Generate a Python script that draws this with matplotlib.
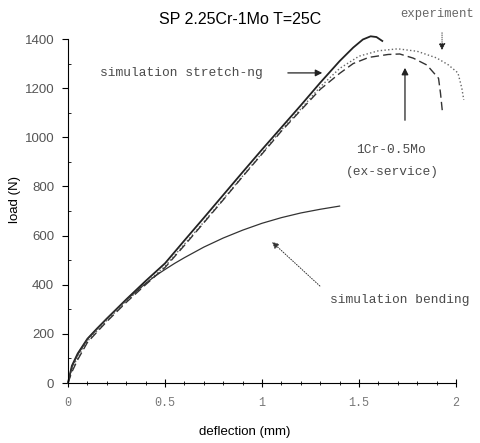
import numpy as np
import matplotlib.pyplot as plt
from matplotlib.ticker import MultipleLocator

## 데이터
x_stretch = [0, 0.02, 0.05, 0.1, 0.15, 0.2, 0.3, 0.4, 0.5, 0.6, 0.7, 0.8, 0.9, 1.0,
             1.1, 1.2, 1.3, 1.4, 1.47, 1.52, 1.56, 1.59, 1.62]
y_stretch = [0, 70, 120, 180, 222, 262, 340, 415, 487, 580, 672, 765, 858, 950,
             1040, 1130, 1222, 1310, 1365, 1398, 1411, 1408, 1392]

x_exp = [0, 0.02, 0.05, 0.1, 0.15, 0.2, 0.3, 0.4, 0.5, 0.6, 0.7, 0.8, 0.9, 1.0,
         1.1, 1.2, 1.3, 1.4, 1.5, 1.6, 1.7, 1.8, 1.9, 1.96, 2.01, 2.03, 2.04]
y_exp = [0, 55, 105, 170, 212, 255, 332, 405, 475, 565, 655, 748, 842, 935,
         1030, 1115, 1205, 1280, 1330, 1352, 1360, 1350, 1323, 1295, 1262, 1200, 1152]

x_cr = [0, 0.02, 0.05, 0.1, 0.15, 0.2, 0.3, 0.4, 0.5, 0.6, 0.7, 0.8, 0.9, 1.0,
        1.1, 1.2, 1.3, 1.4, 1.47, 1.55, 1.65, 1.71, 1.78, 1.85, 1.91, 1.92, 1.93]
y_cr = [0, 45, 95, 165, 208, 250, 328, 400, 470, 560, 652, 745, 840, 932,
        1025, 1110, 1195, 1260, 1300, 1325, 1337, 1339, 1322, 1294, 1240, 1180, 1103]

x_bend = [0, 0.02, 0.05, 0.1, 0.15, 0.2, 0.3, 0.4, 0.45, 0.5, 0.55, 0.6, 0.7, 0.8, 0.9, 1.0,
          1.1, 1.2, 1.3, 1.4]
y_bend = [0, 65, 115, 178, 220, 262, 338, 405, 436, 462, 487, 510, 553, 590, 622, 650,
          673, 692, 707, 720]

xticks = [0, 0.5, 1, 1.5, 2]
xticklabels = ['0', '0.5', '1', '1.5', '2']
yticks = [0, 200, 400, 600, 800, 1000, 1200, 1400]

fig = plt.figure(figsize=(4.8, 4.43), dpi=100)
ax = fig.add_axes([68/480, 1-383/443, (456-68)/480, (383-39)/443])

ax.plot(x_stretch, y_stretch, color='#222222', lw=1.3, clip_on=False)
ax.plot(x_exp, y_exp, color='#666666', lw=1.0, ls=':', clip_on=False)
ax.plot(x_cr, y_cr, color='#333333', lw=1.0, ls=(0, (6, 3)), clip_on=False)
ax.plot(x_bend, y_bend, color='#333333', lw=0.9, clip_on=False)

ax.set_xlim(0, 2)
ax.set_ylim(0, 1400)
ax.spines['top'].set_visible(False)
ax.spines['right'].set_visible(False)
ax.set_xticks(xticks)
ax.set_xticklabels(xticklabels, family='Liberation Mono', fontsize=8.5, color='#777777')
ax.set_yticks(yticks)
ax.set_yticklabels([str(v) for v in yticks], family='Liberation Sans', fontsize=9.5, color='#555555')
ax.xaxis.set_minor_locator(MultipleLocator(0.1))
ax.yaxis.set_minor_locator(MultipleLocator(100))
ax.tick_params(axis='x', which='major', direction='inout', length=6, pad=7)
ax.tick_params(axis='x', which='minor', direction='inout', length=3)
ax.tick_params(axis='y', which='major', direction='out', length=4, pad=6)
ax.tick_params(axis='y', which='minor', direction='in', length=2)

fig.text(0.5, 1-20/443, 'SP 2.25Cr-1Mo T=25C', ha='center', va='center',
         family='Liberation Sans', fontsize=11.5)
fig.text(245/480, 1-432/443, 'deflection (mm)', ha='center', va='center',
         family='Liberation Sans', fontsize=9.5)
fig.text(15/480, 1-200/443, 'load (N)', ha='center', va='center', rotation=90,
         family='Liberation Sans', fontsize=9.5)

mono = dict(family='Liberation Mono', fontsize=9.3, color='#4a4a4a')
arr = dict(arrowstyle='-|>', color='#222222', lw=0.9, mutation_scale=10)

ax.text(0.165, 1262, 'simulation stretch-ng', va='center', ha='left', **mono)
ax.annotate('', xy=(1.325, 1262), xytext=(1.119, 1262), arrowprops=arr, annotation_clip=False)

ax.text(1.711, 1502, 'experiment', va='center', ha='left', clip_on=False,
        family='Liberation Mono', fontsize=8.8, color='#666666')
ax.annotate('', xy=(1.928, 1343), xytext=(1.928, 1437), annotation_clip=False,
            arrowprops=dict(arrowstyle='-|>', color='#222222', lw=0.6, ls=':', mutation_scale=10))

ax.annotate('', xy=(1.737, 1294), xytext=(1.737, 1058), arrowprops=arr, annotation_clip=False)
ax.text(1.665, 948, '1Cr-0.5Mo', va='center', ha='center', **mono)
ax.text(1.67, 859, '(ex-service)', va='center', ha='center', **mono)

ax.annotate('', xy=(1.041, 582), xytext=(1.309, 387), annotation_clip=False,
            arrowprops=dict(arrowstyle='-|>', color='#333333', lw=0.7, ls=':', mutation_scale=10))
ax.text(1.35, 338, 'simulation bending', va='center', ha='left', **mono)

fig.savefig('out.png', dpi=100)
